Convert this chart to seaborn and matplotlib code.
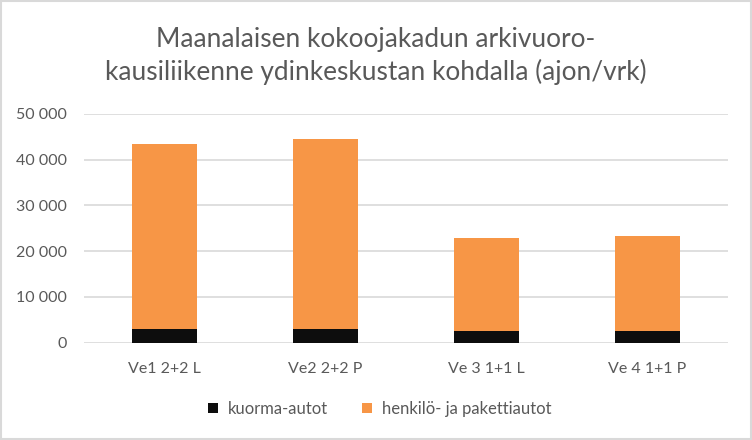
import matplotlib
matplotlib.use("Agg")
import matplotlib.pyplot as plt
import seaborn as sns
import pandas as pd
from matplotlib.patches import Patch, Rectangle
from matplotlib.ticker import FuncFormatter

categories = ["Ve1 2+2 L", "Ve2 2+2 P", "Ve 3 1+1 L", "Ve 4 1+1 P"]
kuorma = [3000, 3000, 2600, 2600]
henkilo = [40400, 41500, 20350, 20700]
series_names = ["kuorma-autot", "henkilö- ja pakettiautot"]
title_lines = ["Maanalaisen kokoojakadun arkivuoro-",
               "kausiliikenne ydinkeskustan kohdalla (ajon/vrk)"]
yticks = [0, 10000, 20000, 30000, 40000, 50000]

c_black = "#0d0d0d"
c_orange = "#f79646"
c_text = "#595959"
c_grid = "#d9d9d9"

sns.set_theme(style="white")
plt.rcParams["font.family"] = ["Lato", "DejaVu Sans"]

df = pd.DataFrame({"cat": categories, "kuorma": kuorma, "henkilo": henkilo})
df["total"] = df["kuorma"] + df["henkilo"]

fig = plt.figure(figsize=(7.52, 4.40), dpi=100)
ax = fig.add_axes([84 / 752, 1 - 342.7 / 440, (728 - 84) / 752, (342.7 - 114) / 440])

sns.barplot(data=df, x="cat", y="total", color=c_orange, width=0.4, ax=ax,
            saturation=1, edgecolor="none", linewidth=0, zorder=3)
sns.barplot(data=df, x="cat", y="kuorma", color=c_black, width=0.4, ax=ax,
            saturation=1, edgecolor="none", linewidth=0, zorder=3)

ax.set_ylim(0, 50000)
ax.set_yticks(yticks)
ax.yaxis.set_major_formatter(FuncFormatter(lambda v, p: f"{int(v):,}".replace(",", " ")))
ax.grid(axis="y", color=c_grid, linewidth=1.2, zorder=0)
ax.set_axisbelow(True)
for s in ax.spines.values():
    s.set_visible(False)
ax.set_xlabel("")
ax.set_ylabel("")
ax.tick_params(axis="both", length=0, colors=c_text, labelsize=11.5)
ax.tick_params(axis="x", pad=14)
ax.tick_params(axis="y", pad=12)

fig.text(0.5, 1 - 40 / 440, title_lines[0], ha="center", va="center",
         fontsize=18.9, color=c_text)
fig.text(0.5, 1 - 72 / 440, title_lines[1], ha="center", va="center",
         fontsize=18.9, color=c_text)

handles = [Patch(facecolor=c_black, edgecolor="none"),
           Patch(facecolor=c_orange, edgecolor="none")]
leg = fig.legend(handles, series_names, loc="center", bbox_to_anchor=(0.505, 1 - 409 / 440),
                 ncol=2, frameon=False, fontsize=12, handlelength=0.6, handleheight=0.6,
                 handletextpad=0.6, columnspacing=2.0)
for t in leg.get_texts():
    t.set_color(c_text)

fig.patches.append(Rectangle((1 / 752, 1 / 440), 750 / 752, 438 / 440, transform=fig.transFigure,
                             fill=False, edgecolor=c_grid, linewidth=1.5))

fig.savefig("out.png", dpi=100)
